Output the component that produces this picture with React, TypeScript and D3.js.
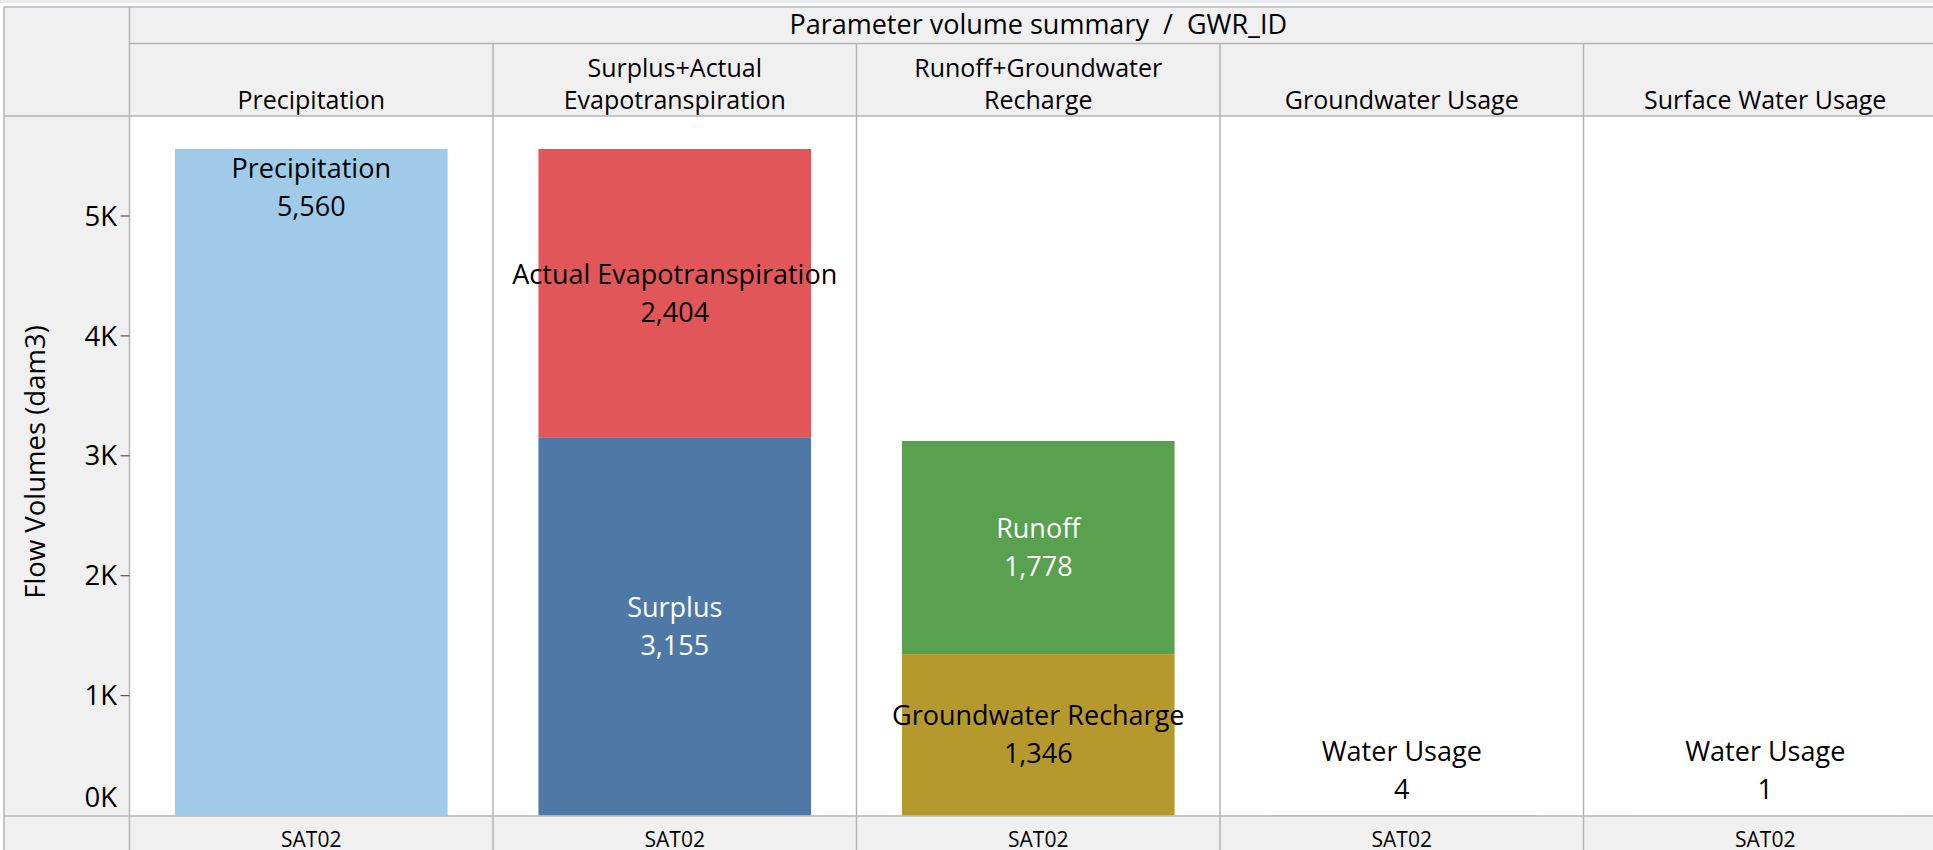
import React from "react";
import * as d3 from "d3";

// ---------- data ----------
const panelNames = [
  "Precipitation",
  "Surplus+Actual Evapotranspiration",
  "Runoff+Groundwater Recharge",
  "Groundwater Usage",
  "Surface Water Usage",
];
const panelHeaderLines = [
  ["Precipitation"],
  ["Surplus+Actual", "Evapotranspiration"],
  ["Runoff+Groundwater", "Recharge"],
  ["Groundwater Usage"],
  ["Surface Water Usage"],
];
const categories = ["SAT02"];
const segmentPanel = [
  "Precipitation",
  "Surplus+Actual Evapotranspiration",
  "Surplus+Actual Evapotranspiration",
  "Runoff+Groundwater Recharge",
  "Runoff+Groundwater Recharge",
  "Groundwater Usage",
  "Surface Water Usage",
];
const segmentNames = [
  "Precipitation",
  "Surplus",
  "Actual Evapotranspiration",
  "Groundwater Recharge",
  "Runoff",
  "Water Usage",
  "Water Usage",
];
const segmentValues = [5560, 3155, 2404, 1346, 1778, 4, 1];
const yTicks = [0, 1000, 2000, 3000, 4000, 5000];
const titleText = "Parameter volume summary  /  GWR_ID";
const yAxisTitle = "Flow Volumes (dam3)";

// ---------- styles ----------
const segmentColors: Record<string, string> = {
  Precipitation: "#a0cbe8",
  Surplus: "#4e79a7",
  "Actual Evapotranspiration": "#e15759",
  "Groundwater Recharge": "#b6992d",
  Runoff: "#59a14f",
  "Water Usage": "#76b7b2",
};
const whiteLabel = new Set(["Surplus", "Runoff"]);
const topLabel = new Set(["Precipitation"]);

const FONT = "'Open Sans', 'Noto Sans', sans-serif";
const W = 1933;
const H = 850;
const frameL = 4;
const frameT = 7;
const axisR = 129.5;
const titleB = 43.5;
const headerB = 116;
const plotB = 816;
const colW = 363.5;
const LINE = "#b4b4b4";
const GRAYBG = "#f0f0f0";

export default function App() {
  const px = d3
    .scaleBand<string>()
    .domain(panelNames)
    .range([axisR, axisR + colW * panelNames.length]);
  const cx = d3
    .scaleBand<string>()
    .domain(categories)
    .range([0, colW])
    .paddingInner(0.25)
    .paddingOuter(0.125);
  const y = d3.scaleLinear().domain([0, 5834]).range([815.5, headerB]);

  // stack segments per panel
  const cum: Record<string, number> = {};
  const segs = segmentValues.map((v, i) => {
    const p = segmentPanel[i];
    const y0 = cum[p] || 0;
    const y1 = y0 + v;
    cum[p] = y1;
    return { panel: p, name: segmentNames[i], v, y0, y1, cat: categories[0] };
  });

  const fmt = d3.format(",");
  const lineGap = 38;

  return (
    <svg
      width={W}
      height={H}
      style={{ position: "absolute", left: 0, top: 0, display: "block" }}
      fontFamily={FONT}
    >
      <rect x={0} y={0} width={W} height={H} fill="#ffffff" />
      <rect x={0} y={0} width={W} height={3} fill="#e9ebee" />
      {/* gray header / axis / footer areas */}
      <rect x={frameL} y={frameT} width={W} height={headerB - frameT} fill={GRAYBG} />
      <rect x={frameL} y={headerB} width={axisR - frameL} height={H - headerB} fill={GRAYBG} />
      <rect x={frameL} y={plotB} width={W} height={H - plotB} fill={GRAYBG} />
      <rect x={axisR} y={headerB} width={W} height={plotB - headerB} fill="#ffffff" />

      {/* bars */}
      {segs.map((s, i) => {
        const x0 = (px(s.panel) as number) + (cx(s.cat) as number);
        const yt = y(s.y1);
        const yb = y(s.y0);
        return (
          <rect
            key={"b" + i}
            x={x0}
            y={yt}
            width={cx.bandwidth()}
            height={Math.max(0, yb - yt)}
            fill={segmentColors[s.name]}
          />
        );
      })}

      {/* bar labels */}
      {segs.map((s, i) => {
        const xc = (px(s.panel) as number) + (cx(s.cat) as number) + cx.bandwidth() / 2;
        const yt = y(s.y1);
        const yb = y(s.y0);
        let c1: number;
        if (topLabel.has(s.name)) {
          c1 = yt + 20;
        } else {
          const mid = (yt + yb) / 2;
          c1 = mid - lineGap / 2;
          const bottomLimit = plotB - 26;
          if (c1 + lineGap > bottomLimit) c1 = bottomLimit - lineGap;
        }
        const fill = whiteLabel.has(s.name) ? "#ffffff" : "#000000";
        return (
          <g key={"l" + i} fill={fill} fontSize={27} textAnchor="middle">
            <text x={xc} y={c1} dy="0.35em">{s.name}</text>
            <text x={xc} y={c1 + lineGap} dy="0.35em">{fmt(s.v)}</text>
          </g>
        );
      })}

      {/* frame lines */}
      <g stroke={LINE} strokeWidth={1.5} fill="none">
        <line x1={frameL} x2={W} y1={frameT} y2={frameT} />
        <line x1={frameL} x2={frameL} y1={frameT} y2={H} />
        <line x1={axisR} x2={axisR} y1={frameT} y2={H} />
        <line x1={axisR} x2={W} y1={titleB} y2={titleB} />
        <line x1={frameL} x2={W} y1={headerB} y2={headerB} />
        <line x1={frameL} x2={W} y1={plotB} y2={plotB} />
        {panelNames.slice(1).map((p) => (
          <line key={p} x1={px(p) as number} x2={px(p) as number} y1={titleB} y2={H} />
        ))}
      </g>

      {/* title */}
      <text
        x={(axisR + axisR + colW * panelNames.length) / 2}
        y={25}
        dy="0.35em"
        textAnchor="middle"
        fontSize={27}
        fill="#000"
        style={{ whiteSpace: "pre" }}
        xmlSpace="preserve"
      >
        {titleText}
      </text>

      {/* column headers */}
      {panelNames.map((p, i) => {
        const lines = panelHeaderLines[i];
        const xc = (px(p) as number) + colW / 2;
        return (
          <g key={"h" + p} fontSize={25} textAnchor="middle" fill="#000">
            {lines.map((t, j) => (
              <text key={j} x={xc} y={100 - (lines.length - 1 - j) * 32} dy="0.35em">
                {t}
              </text>
            ))}
          </g>
        );
      })}

      {/* footer category labels */}
      {panelNames.map((p) => (
        <text
          key={"f" + p}
          x={(px(p) as number) + (cx(categories[0]) as number) + cx.bandwidth() / 2}
          y={840}
          dy="0.35em"
          textAnchor="middle"
          fontSize={21}
          fill="#000"
        >
          {categories[0]}
        </text>
      ))}

      {/* y axis */}
      {yTicks.map((t) => {
        const yy = y(t);
        const labelY = t === 0 ? yy - 18 : yy;
        return (
          <g key={"t" + t}>
            {t !== 0 && (
              <line x1={axisR - 9} x2={axisR} y1={yy} y2={yy} stroke="#555" strokeWidth={1.2} />
            )}
            <text x={117} y={labelY} dy="0.35em" textAnchor="end" fontSize={27.5} fill="#000">
              {t / 1000 + "K"}
            </text>
          </g>
        );
      })}
      <text
        transform={`translate(35, 462) rotate(-90)`}
        dy="0.35em"
        textAnchor="middle"
        fontSize={27.5}
        fill="#000"
      >
        {yAxisTitle}
      </text>
    </svg>
  );
}
